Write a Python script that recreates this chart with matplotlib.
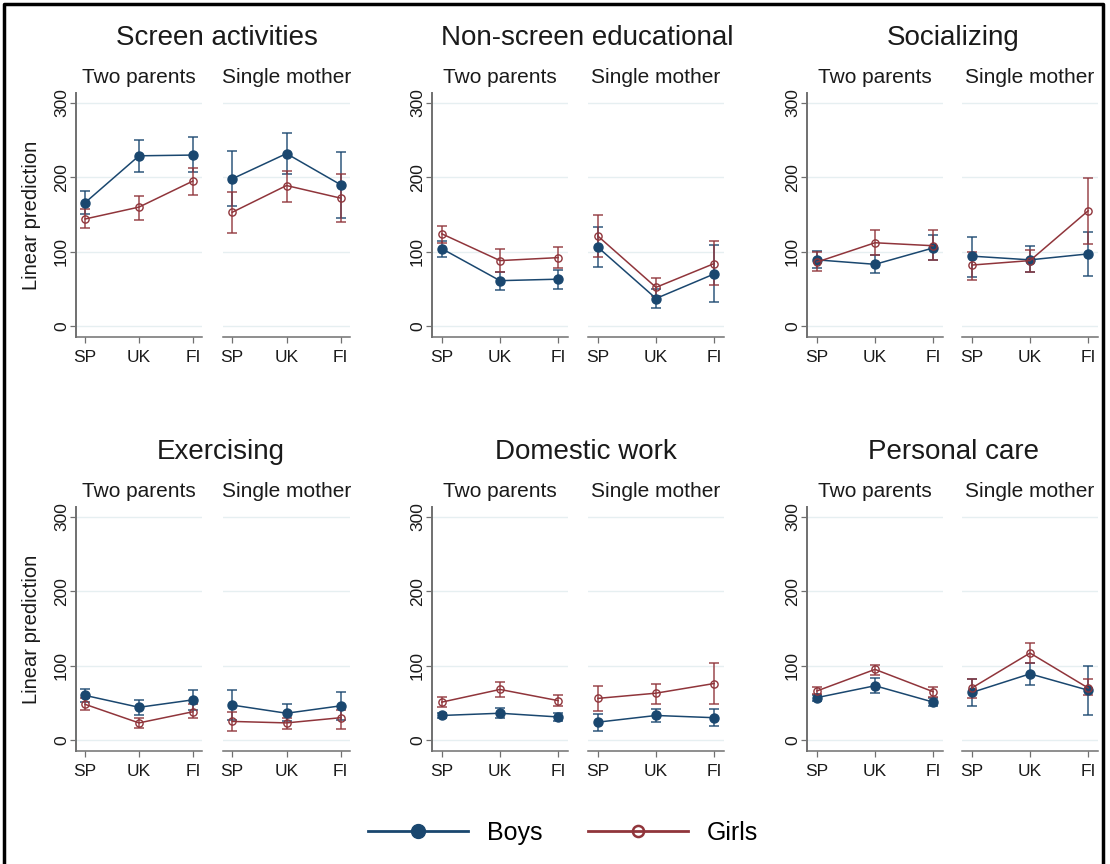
import matplotlib
matplotlib.use("Agg")
import matplotlib.pyplot as plt
from matplotlib.lines import Line2D

plt.rcParams['font.family'] = ['Liberation Sans', 'DejaVu Sans']

countries = ["SP", "UK", "FI"]
households = ["Two parents", "Single mother"]
activities = ["Screen activities", "Non-screen educational", "Socializing",
              "Exercising", "Domestic work", "Personal care"]

# values: Two parents SP, UK, FI, then Single mother SP, UK, FI
screen_boys = [166, 229, 230, 198, 232, 190]
screen_boys_lo = [151, 207, 207, 161, 205, 145]
screen_boys_hi = [181, 250, 254, 235, 260, 234]
screen_girls = [144, 160, 195, 153, 189, 172]
screen_girls_lo = [132, 143, 176, 125, 167, 140]
screen_girls_hi = [157, 175, 213, 180, 209, 205]

educ_boys = [104, 61, 63, 106, 37, 70]
educ_boys_lo = [93, 49, 50, 79, 24, 32]
educ_boys_hi = [114, 73, 76, 133, 50, 109]
educ_girls = [124, 88, 92, 121, 52, 84]
educ_girls_lo = [112, 73, 78, 93, 40, 55]
educ_girls_hi = [135, 103, 106, 149, 65, 114]

social_boys = [89, 83, 105, 94, 89, 97]
social_boys_lo = [78, 71, 89, 66, 72, 67]
social_boys_hi = [101, 95, 122, 120, 107, 127]
social_girls = [86, 112, 108, 82, 88, 155]
social_girls_lo = [74, 96, 89, 62, 72, 111]
social_girls_hi = [99, 129, 129, 100, 102, 199]

exer_boys = [60, 44, 54, 47, 36, 46]
exer_boys_lo = [51, 34, 41, 27, 25, 27]
exer_boys_hi = [69, 54, 67, 67, 48, 65]
exer_girls = [48, 23, 38, 25, 23, 30]
exer_girls_lo = [40, 16, 29, 12, 15, 15]
exer_girls_hi = [57, 30, 48, 38, 30, 41]

domestic_boys = [33, 36, 31, 24, 33, 30]
domestic_boys_lo = [29, 29, 26, 12, 24, 19]
domestic_boys_hi = [37, 43, 37, 35, 42, 42]
domestic_girls = [51, 68, 53, 56, 63, 76]
domestic_girls_lo = [44, 58, 46, 39, 49, 48]
domestic_girls_hi = [58, 78, 60, 72, 76, 104]

care_boys = [57, 73, 51, 64, 89, 67]
care_boys_lo = [53, 63, 46, 46, 74, 33]
care_boys_hi = [61, 83, 56, 82, 104, 100]
care_girls = [66, 95, 65, 70, 117, 70]
care_girls_lo = [62, 88, 58, 57, 103, 60]
care_girls_hi = [71, 101, 71, 82, 131, 82]

table = [
    (screen_boys, screen_boys_lo, screen_boys_hi, screen_girls, screen_girls_lo, screen_girls_hi),
    (educ_boys, educ_boys_lo, educ_boys_hi, educ_girls, educ_girls_lo, educ_girls_hi),
    (social_boys, social_boys_lo, social_boys_hi, social_girls, social_girls_lo, social_girls_hi),
    (exer_boys, exer_boys_lo, exer_boys_hi, exer_girls, exer_girls_lo, exer_girls_hi),
    (domestic_boys, domestic_boys_lo, domestic_boys_hi, domestic_girls, domestic_girls_lo, domestic_girls_hi),
    (care_boys, care_boys_lo, care_boys_hi, care_girls, care_girls_lo, care_girls_hi),
]

NAVY = "#1A476F"
MAROON = "#90353B"
GRID = "#E6EFF1"
SPINE = "#707070"

W, H = 1110, 864
fig = plt.figure(figsize=(W / 100, H / 100), dpi=100)

# pixel layout
rows_y = [(93, 337), (507, 751)]
cols_x = [((76, 202), (223, 350)), ((432, 568), (588, 724)), ((807, 943), (962, 1098))]
title_x = [217, 587, 953, 221, 586, 953]
title_base = [45, 459]


def add_ax(l, t, r, b):
    return fig.add_axes([l / W, 1 - b / H, (r - l) / W, (b - t) / H])


x = list(range(len(countries)))
for k, name in enumerate(activities):
    row, col = divmod(k, 3)
    t, b = rows_y[row]
    bm, blo, bhi, gm, glo, ghi = table[k]
    for h in range(2):
        l, r = cols_x[col][h]
        ax = add_ax(l, t, r, b)
        sl = slice(3 * h, 3 * h + 3)
        for m, lo, hi, c, face, ms in [(bm, blo, bhi, NAVY, NAVY, 6.5),
                                       (gm, glo, ghi, MAROON, 'none', 5.2)]:
            mm = m[sl]
            err = [[a - q for a, q in zip(mm, lo[sl])], [q - a for a, q in zip(mm, hi[sl])]]
            ax.errorbar(x, mm, yerr=err, fmt='none', ecolor=c, elinewidth=1.1,
                        capsize=3.5, capthick=1.1, alpha=0.9, zorder=3)
            ax.plot(x, mm, color=c, lw=1.1, marker='o', ms=ms, mfc=face,
                    mec=c, mew=1.0, zorder=4)
        ax.set_xlim(-0.17, 2.17)
        ax.set_ylim(-14.8, 313.5)
        ax.set_yticks([0, 100, 200, 300])
        ax.set_xticks(x)
        ax.set_xticklabels(countries)
        ax.grid(axis='y', color=GRID, lw=1.0)
        ax.set_axisbelow(True)
        for s in ['top', 'right']:
            ax.spines[s].set_visible(False)
        ax.spines['bottom'].set_color(SPINE)
        ax.spines['bottom'].set_linewidth(1.1)
        ax.tick_params(axis='x', length=4, width=0.9, color=SPINE, pad=5,
                       labelsize=12.5, labelcolor='#1a1a1a')
        if h == 0:
            ax.spines['left'].set_color(SPINE)
            ax.spines['left'].set_linewidth(1.4)
            ax.tick_params(axis='y', length=4, width=0.9, color=SPINE, pad=1,
                           labelsize=12.5, labelcolor='#1a1a1a')
            for lab in ax.get_yticklabels():
                lab.set_rotation(90)
                lab.set_va('center')
        else:
            ax.spines['left'].set_visible(False)
            ax.tick_params(axis='y', left=False, labelleft=False)
        ax.set_title(households[h], fontsize=15, pad=7, color='#1a1a1a')
    fig.text(title_x[k] / W, 1 - title_base[row] / H, name, fontsize=20,
             ha='center', va='baseline', color='#1a1a1a')
    if col == 0:
        fig.text(32 / W, 1 - (t + b) / 2 / H, "Linear prediction", fontsize=14.5,
                 rotation=90, ha='center', va='center', color='#1a1a1a')

handles = [
    Line2D([], [], color=NAVY, lw=2, marker='o', ms=10, mfc=NAVY, mec=NAVY),
    Line2D([], [], color=MAROON, lw=2, marker='o', ms=8, mfc='none', mec=MAROON, mew=1.8),
]
fig.legend(handles, ["Boys", "Girls"], ncol=2, frameon=False, fontsize=18,
           handlelength=4, handletextpad=0.75, columnspacing=1.8,
           loc='center', bbox_to_anchor=(563 / W, 1 - 833 / H))

# outer frame (left, top, right)
fx0, fx1, fy = 4 / W, 1103 / W, 1 - 4 / H
fig.add_artist(Line2D([fx0, fx0, fx1, fx1], [0, fy, fy, 0], color='black', lw=2.5,
                      transform=fig.transFigure))

fig.savefig("out.png", dpi=100)
